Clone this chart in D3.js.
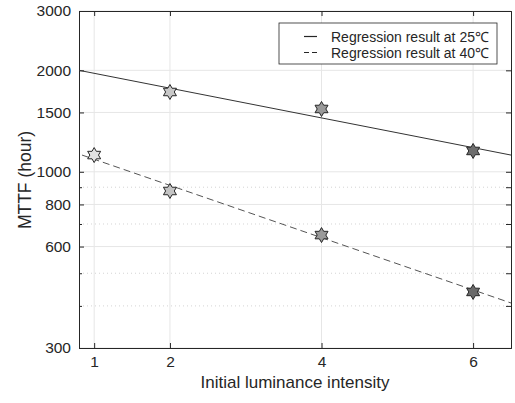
<!DOCTYPE html>
<html>
<head>
<meta charset="utf-8">
<script src="https://cdn.jsdelivr.net/npm/d3@7"></script>
<style>
  body { margin: 0; background: #fff; }
  text { font-family: "Liberation Sans", Arial, sans-serif; fill: #262626; }
</style>
</head>
<body>
<div id="chart"></div>
<script>
// data
var xTicks = [1, 2, 4, 6];
var yTicks = [300, 600, 800, 1000, 1500, 2000, 3000];
var yMinor = [400, 500, 700, 900];

var x25 = [2, 4, 6];
var mttf25 = [1725, 1536, 1153];
var fill25 = ["#c8c8c8", "#9a9a9a", "#6e6e6e"];

var x40 = [1, 2, 4, 6];
var mttf40 = [1121, 877, 649, 440];
var fill40 = ["#e2e2e2", "#c4c4c4", "#9a9a9a", "#6a6a6a"];

// regression lines (end points)
var reg25X = [0.8, 6.5];
var reg25Y = [2000, 1121];
var reg40X = [0.84, 6.5];
var reg40Y = [1121, 408];

var legendLabels = ["Regression result at 25\u2103", "Regression result at 40\u2103"];

var svgWidth = 515;
var svgHeight = 403;
var margin = { top: 11, right: 4, bottom: 55, left: 79 };
var width = svgWidth - margin.left - margin.right;
var height = svgHeight - margin.top - margin.bottom;

var svg = d3.select("#chart")
  .append("svg")
  .attr("width", svgWidth)
  .attr("height", svgHeight);

var chartGroup = svg.append("g")
  .attr("transform", `translate(${margin.left}, ${margin.top})`);

var xScale = d3.scaleLinear().domain([0.8, 6.5]).range([0, width]);
var yScale = d3.scaleLog().domain([300, 3000]).range([height, 0]);

// grid
chartGroup.selectAll(".xgrid")
  .data(xTicks).enter().append("line")
  .attr("x1", d => xScale(d)).attr("x2", d => xScale(d))
  .attr("y1", 0).attr("y2", height)
  .attr("stroke", "#e6e6e6").attr("stroke-width", 1);

chartGroup.selectAll(".ygrid")
  .data(yTicks).enter().append("line")
  .attr("x1", 0).attr("x2", width)
  .attr("y1", d => yScale(d)).attr("y2", d => yScale(d))
  .attr("stroke", "#e6e6e6").attr("stroke-width", 1);

chartGroup.selectAll(".ygridMinor")
  .data(yMinor).enter().append("line")
  .attr("x1", 0).attr("x2", width)
  .attr("y1", d => yScale(d)).attr("y2", d => yScale(d))
  .attr("stroke", "#d4d4d4").attr("stroke-width", 1)
  .attr("stroke-dasharray", "1,3");

// axes with inward ticks
var bottomAxis = d3.axisBottom(xScale).tickValues(xTicks).tickSize(-5).tickPadding(8).tickFormat(d3.format("d"));
var topAxis = d3.axisTop(xScale).tickValues(xTicks).tickSize(-5).tickFormat("");
var leftAxis = d3.axisLeft(yScale).tickValues(yTicks).tickSize(-5).tickPadding(8).tickFormat(d3.format("d"));
var rightAxis = d3.axisRight(yScale).tickValues(yTicks.concat(yMinor)).tickSize(-5).tickFormat("");
var leftMinor = d3.axisLeft(yScale).tickValues(yMinor).tickSize(-3).tickFormat("");

function styleAxis(g) {
  g.select(".domain").attr("stroke", "#262626");
  g.selectAll(".tick line").attr("stroke", "#262626");
  g.selectAll(".tick text").attr("font-size", 15.5).attr("fill", "#262626")
    .attr("font-family", "Liberation Sans, Arial, sans-serif");
}

chartGroup.append("g").attr("transform", `translate(0, ${height})`).call(bottomAxis).call(styleAxis);
chartGroup.append("g").call(topAxis).call(styleAxis);
chartGroup.append("g").call(leftAxis).call(styleAxis);
chartGroup.append("g").call(leftMinor).call(styleAxis);
chartGroup.append("g").attr("transform", `translate(${width}, 0)`).call(rightAxis).call(styleAxis);

// regression lines
var line = d3.line().x(d => xScale(d[0])).y(d => yScale(d[1]));

chartGroup.append("path")
  .datum(d3.zip(reg25X, reg25Y))
  .attr("d", line)
  .attr("fill", "none").attr("stroke", "#333").attr("stroke-width", 1);

chartGroup.append("path")
  .datum(d3.zip(reg40X, reg40Y))
  .attr("d", line)
  .attr("fill", "none").attr("stroke", "#555").attr("stroke-width", 1)
  .attr("stroke-dasharray", "7,4");

// hexagram markers
function hexagram(r) {
  var pts = [];
  for (var i = 0; i < 12; i++) {
    var a = -Math.PI / 2 + i * Math.PI / 6;
    var rr = i % 2 === 0 ? r : r / Math.sqrt(3);
    pts.push([rr * Math.cos(a), rr * Math.sin(a)]);
  }
  return "M" + pts.join("L") + "Z";
}

var points = d3.zip(x25, mttf25, fill25).concat(d3.zip(x40, mttf40, fill40));

chartGroup.selectAll(".marker")
  .data(points).enter().append("path")
  .attr("transform", d => `translate(${xScale(d[0])}, ${yScale(d[1])})`)
  .attr("d", hexagram(7.5))
  .attr("fill", d => d[2])
  .attr("stroke", "#262626").attr("stroke-width", 1);

// axis labels
chartGroup.append("text")
  .attr("transform", "rotate(-90)")
  .attr("x", -(height / 2) - 0.5)
  .attr("y", -48)
  .attr("text-anchor", "middle")
  .attr("font-size", 17.5)
  .attr("fill", "#262626")
  .text("MTTF (hour)");

chartGroup.append("text")
  .attr("x", width / 2)
  .attr("y", height + 39.5)
  .attr("text-anchor", "middle")
  .attr("font-size", 17)
  .attr("fill", "#262626")
  .text("Initial luminance intensity");

// legend
var legend = chartGroup.append("g").attr("transform", "translate(200, 12)");
legend.append("rect")
  .attr("x", 0).attr("y", 0).attr("width", 218).attr("height", 41)
  .attr("fill", "#fff").attr("stroke", "#262626").attr("stroke-width", 0.8);

var dashes = [null, "5,3"];
legend.selectAll(".lg")
  .data(legendLabels).enter().append("g")
  .each(function(d, i) {
    var g = d3.select(this);
    g.append("line")
      .attr("x1", 25).attr("x2", 38)
      .attr("y1", 13.5 + i * 16).attr("y2", 13.5 + i * 16)
      .attr("stroke", "#262626").attr("stroke-width", 1.2)
      .attr("stroke-dasharray", dashes[i]);
    g.append("text")
      .attr("x", 52).attr("y", 18.5 + i * 16)
      .attr("font-size", 14)
      .attr("fill", "#262626")
      .text(d);
  });
</script>
</body>
</html>
